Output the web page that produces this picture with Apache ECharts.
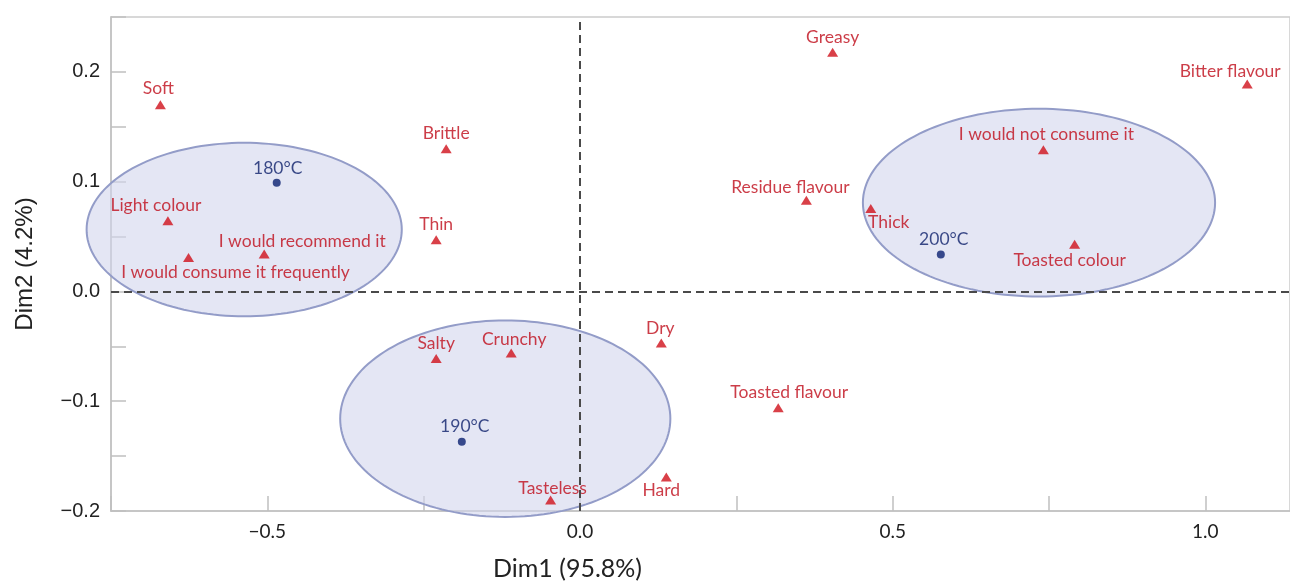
<!DOCTYPE html>
<html><head><meta charset="utf-8">
<script src="https://cdn.jsdelivr.net/npm/echarts@6/dist/echarts.min.js"></script>
<style>html,body{margin:0;padding:0;background:#fff}#c{width:1290px;height:586px}</style>
</head><body><div id="c"></div>
<script>
// Attribute (descriptor) points
const attrNames = ['Soft','Light colour','I would consume it frequently','I would recommend it','Brittle','Thin','Greasy','Residue flavour','Bitter flavour','I would not consume it','Thick','Toasted colour','Salty','Crunchy','Dry','Toasted flavour','Hard','Tasteless'];
const attrDim1 = [-0.671,-0.659,-0.626,-0.505,-0.214,-0.230,0.404,0.362,1.067,0.741,0.465,0.791,-0.230,-0.110,0.130,0.317,0.138,-0.047];
const attrDim2 = [0.170,0.0645,0.031,0.034,0.130,0.047,0.218,0.083,0.189,0.129,0.0755,0.043,-0.061,-0.056,-0.047,-0.106,-0.169,-0.190];
// Temperature points
const tempNames = ['180°C','190°C','200°C'];
const tempDim1 = [-0.485,-0.189,0.577];
const tempDim2 = [0.099,-0.137,0.0336];
// Confidence ellipses (center and semi-axes, in data units)
const ellCx = [-0.537,-0.1195,0.734];
const ellCy = [0.0564,-0.1159,0.0809];
const ellRx = [0.252,0.264,0.2816];
const ellRy = [0.079,0.0895,0.0855];
// Axis settings
const xTicks = {min:-0.75, max:1.1354, interval:0.25, labelEvery:0.5};
const yTicks = {min:-0.2, max:0.25, interval:0.05, labelEvery:0.1};

// Label placement (pixel offsets of text centre from the marker)
const attrLabelOffset = {
  'Soft':[-2,-16],'Light colour':[-12,-15],'I would consume it frequently':[47,15],'I would recommend it':[38,-13],
  'Brittle':[0,-15],'Thin':[0,-15],'Greasy':[0,-15],'Residue flavour':[-16,-13],'Bitter flavour':[-17,-13],
  'I would not consume it':[3,-15],'Thick':[18,14],'Toasted colour':[-5,16],'Salty':[0,-15],'Crunchy':[3,-14],
  'Dry':[-1,-15],'Toasted flavour':[11,-15],'Hard':[-5,13],'Tasteless':[2,-12]
};
const tempLabelOffset = {'180°C':[1,-14],'190°C':[3,-15],'200°C':[3,-15]};

const FONT = 'Lato';
const SANS = '"Liberation Sans", Arial, sans-serif';
const RED = '#bf0c1a';
const NAVY = '#0c1f6a';

function fmt(v, every){
  const r = v/every;
  if (Math.abs(r-Math.round(r))>1e-6) return '';
  return v.toFixed(1).replace('-','\u2212');
}

const attrData = attrNames.map((n,i)=>({
  name:n, value:[attrDim1[i],attrDim2[i]],
  label:{offset:attrLabelOffset[n]}
}));
const tempData = tempNames.map((n,i)=>({
  name:n, value:[tempDim1[i],tempDim2[i]],
  label:{offset:tempLabelOffset[n]}
}));
const ellData = ellCx.map((c,i)=>[c,ellCy[i],ellRx[i],ellRy[i]]);

const chart = echarts.init(document.getElementById('c'), null, {renderer:'canvas'});
chart.setOption({
  backgroundColor:'#fff',
  animation:false,
  textStyle:{fontFamily:FONT},
  grid:{left:111, top:17, right:-2, bottom:74, show:true, borderColor:'#cccccc', borderWidth:1.5},
  xAxis:{
    type:'value', min:xTicks.min, max:xTicks.max, interval:xTicks.interval,
    name:'Dim1 (95.8%)', nameLocation:'middle', nameGap:45,
    nameTextStyle:{fontFamily:FONT, fontSize:25, color:'#222', padding:[0,266,0,0]},
    axisLine:{show:true, onZero:false, lineStyle:{color:'#c0c0c0', width:1.5}},
    axisTick:{show:true, inside:true, length:15, lineStyle:{color:'#c0c0c0', width:1.5}},
    axisLabel:{fontFamily:FONT, fontSize:19, color:'#222', margin:11, showMaxLabel:false,
      formatter:v=>fmt(v,xTicks.labelEvery)},
    splitLine:{show:false}
  },
  yAxis:{
    type:'value', min:yTicks.min, max:yTicks.max, interval:yTicks.interval,
    name:'Dim2 (4.2%)', nameLocation:'middle', nameGap:74, nameRotate:90,
    nameTextStyle:{fontFamily:SANS, fontSize:24, color:'#222'},
    axisLine:{show:true, onZero:false, lineStyle:{color:'#c0c0c0', width:1.5}},
    axisTick:{show:true, inside:true, length:15, lineStyle:{color:'#c0c0c0', width:1.5}},
    axisLabel:{fontFamily:SANS, fontSize:20, color:'#222', margin:11,
      formatter:v=>fmt(v,yTicks.labelEvery)},
    splitLine:{show:false}
  },
  series:[
    {
      type:'custom', name:'ellipses', z:1, clip:false,
      data: ellData,
      encode:{x:0, y:1},
      renderItem:function(params, api){
        const c = api.coord([api.value(0), api.value(1)]);
        const s = api.size([api.value(2), api.value(3)]);
        const pts = [];
        const N = 160;
        for (let k=0;k<N;k++){
          const t = 2*Math.PI*k/N;
          pts.push([c[0]+s[0]*Math.cos(t), c[1]+s[1]*Math.sin(t)]);
        }
        return {type:'polygon', shape:{points:pts},
          style:{fill:'rgba(210,213,236,0.6)', stroke:'#939cc8', lineWidth:2}};
      },
      silent:true
    },
    {
      type:'line', name:'zero', data:[], z:2, silent:true,
      markLine:{
        symbol:['none','none'], silent:true, animation:false,
        label:{show:false},
        lineStyle:{color:'#4a4a4a', width:2, type:[8,5]},
        data:[{xAxis:0},{yAxis:0}]
      }
    },
    {
      type:'scatter', name:'attributes', z:3,
      symbol:'triangle', symbolSize:[11,9],
      itemStyle:{color:'#d0101a'},
      label:{show:true, position:'inside', formatter:'{b}', color:RED,
        fontFamily:FONT, fontSize:17.5, align:'center', verticalAlign:'middle'},
      data: attrData
    },
    {
      type:'scatter', name:'temperatures', z:3,
      symbol:'circle', symbolSize:8,
      itemStyle:{color:'#0a2070'},
      label:{show:true, position:'inside', formatter:'{b}', color:NAVY,
        fontFamily:FONT, fontSize:17.5, align:'center', verticalAlign:'middle'},
      data: tempData
    }
  ]
});
</script>
</body></html>
